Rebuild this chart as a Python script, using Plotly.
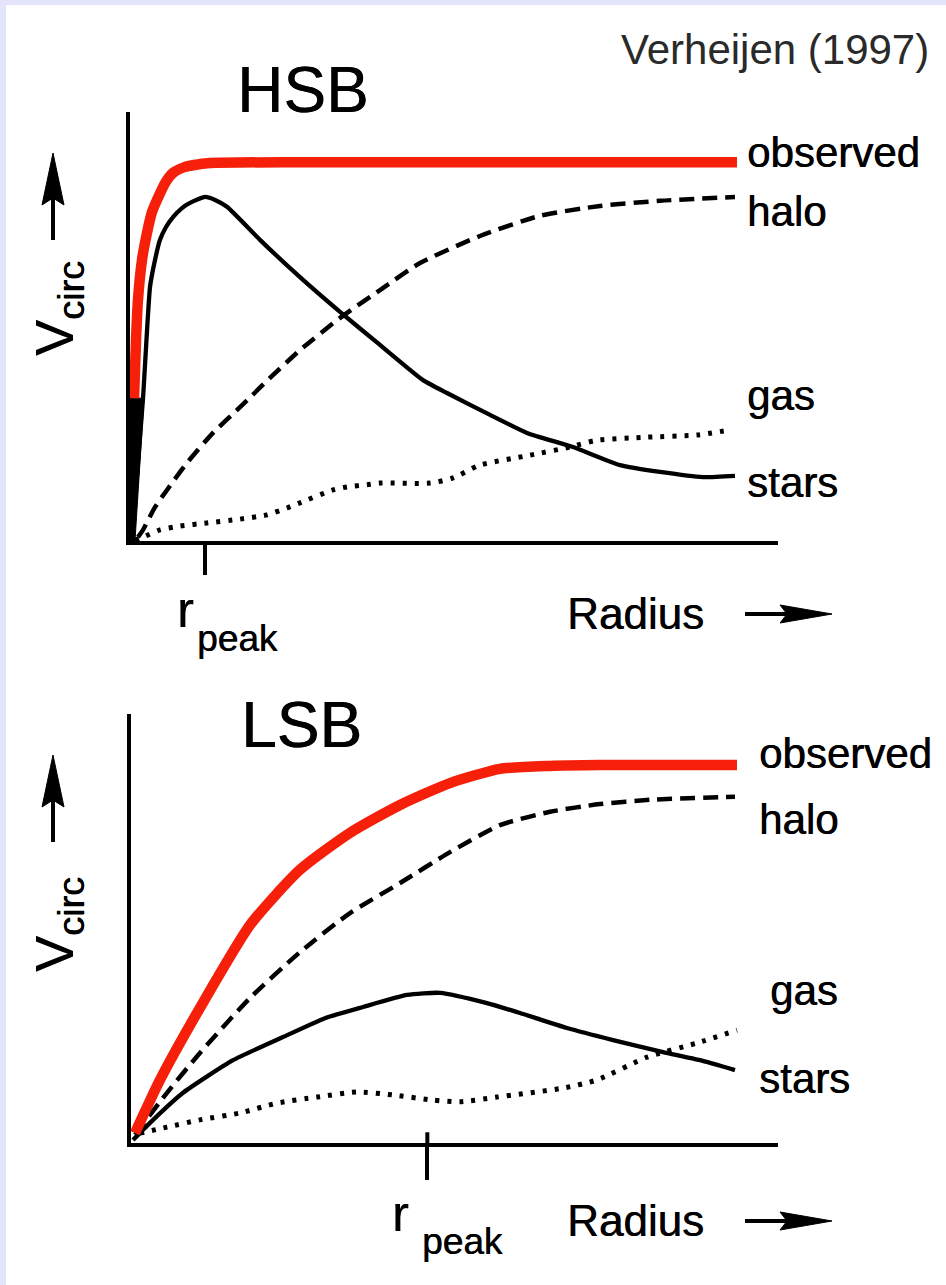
import plotly.graph_objects as go

W, H = 946, 1285

# ---------------- data (arbitrary units: radius 0..10, velocity 0..1) -------------
# HSB panel
hsb_obs_r = [0.062, 0.093, 0.123, 0.185, 0.262, 0.340, 0.417, 0.540, 0.664, 0.849, 0.972, 1.235, 2.623, 9.367]
hsb_obs_v = [0.333, 0.469, 0.562, 0.655, 0.718, 0.767, 0.795, 0.834, 0.858, 0.872, 0.876, 0.881, 0.883, 0.883]

hsb_stars_r = [0.031, 0.201, 0.309, 0.386, 0.463, 0.556, 0.664, 0.802, 0.926, 1.157, 1.312, 1.497, 2.006,
               2.623, 3.241, 3.858, 4.522, 4.892, 5.556, 6.127, 6.836, 7.562, 8.179, 8.843, 9.336]
hsb_stars_v = [0.0, 0.333, 0.592, 0.655, 0.702, 0.732, 0.755, 0.776, 0.788, 0.802, 0.795, 0.779, 0.702,
               0.615, 0.534, 0.457, 0.375, 0.345, 0.294, 0.252, 0.219, 0.177, 0.161, 0.149, 0.152]

hsb_core_r = [0.0, 0.0, 0.216, 0.077]
hsb_core_v = [0.0, 0.333, 0.333, 0.0]

hsb_halo_r = [0.123, 0.201, 0.386, 0.571, 0.880, 1.281, 1.698, 2.160, 2.623, 3.241, 3.858, 4.475, 5.401,
              6.327, 7.253, 8.179, 9.336]
hsb_halo_v = [0.009, 0.026, 0.079, 0.119, 0.182, 0.252, 0.312, 0.380, 0.445, 0.520, 0.585, 0.648, 0.711,
              0.758, 0.781, 0.793, 0.802]

hsb_gas_r = [0.077, 0.201, 0.463, 0.772, 1.188, 1.698, 2.114, 2.423, 2.623, 3.133, 3.349, 3.657, 3.858,
             4.630, 4.985, 5.401, 6.173, 6.790, 7.207, 7.978, 8.750, 9.259]
hsb_gas_v = [0.002, 0.009, 0.026, 0.035, 0.042, 0.051, 0.061, 0.077, 0.089, 0.119, 0.126, 0.131, 0.135,
             0.135, 0.147, 0.177, 0.200, 0.219, 0.235, 0.242, 0.247, 0.259]

hsb_rpeak = 1.157

# LSB panel
lsb_obs_r = [0.062, 0.448, 1.066, 1.839, 2.612, 3.385, 4.158, 4.930, 5.703, 6.476, 7.249, 9.366]
lsb_obs_v = [0.023, 0.147, 0.315, 0.508, 0.637, 0.723, 0.788, 0.839, 0.872, 0.879, 0.881, 0.881]

lsb_halo_r = [0.062, 0.556, 1.066, 1.839, 2.612, 3.385, 4.158, 4.930, 5.703, 6.476, 7.249, 8.022, 9.335]
lsb_halo_v = [0.019, 0.117, 0.210, 0.338, 0.445, 0.536, 0.606, 0.678, 0.741, 0.772, 0.790, 0.800, 0.807]

lsb_stars_r = [0.031, 0.294, 0.804, 1.577, 2.349, 2.998, 3.586, 4.266, 4.776, 5.502, 6.012, 6.739, 7.450,
               8.223, 8.795, 9.335]
lsb_stars_v = [0.007, 0.047, 0.117, 0.193, 0.247, 0.291, 0.317, 0.345, 0.350, 0.326, 0.303, 0.268, 0.240,
               0.212, 0.193, 0.170]

lsb_gas_r = [0.139, 0.556, 1.066, 1.685, 2.257, 2.875, 3.493, 4.049, 4.668, 5.085, 5.657, 6.677, 7.202,
             7.975, 8.748, 9.366]
lsb_gas_v = [0.023, 0.037, 0.054, 0.070, 0.093, 0.107, 0.119, 0.112, 0.100, 0.096, 0.107, 0.128, 0.147,
             0.200, 0.233, 0.263]

lsb_rpeak = 4.58

# ---------------- helpers (pixel -> paper) ----------------
def px(x):
    return x / W


def py(y):
    return 1 - y / H


RED = "#f51f0a"
FONT = "Liberation Sans, Arial, Helvetica, sans-serif"
THICK = "0.6px 0px 0px black"

fig = go.Figure()


def add_panel(xa, ya, gas, halo, stars, obs, core=None):
    fig.add_trace(go.Scatter(x=gas[0], y=gas[1], mode="lines", xaxis=xa, yaxis=ya,
                             line=dict(color="black", width=5, dash="4px,8px", shape="spline", smoothing=0.6)))
    fig.add_trace(go.Scatter(x=halo[0], y=halo[1], mode="lines", xaxis=xa, yaxis=ya,
                             line=dict(color="black", width=4.5, dash="15px,8px", shape="spline", smoothing=0.6)))
    fig.add_trace(go.Scatter(x=stars[0], y=stars[1], mode="lines", xaxis=xa, yaxis=ya,
                             line=dict(color="black", width=4.3, shape="spline", smoothing=0.5)))
    if core is not None:
        fig.add_trace(go.Scatter(x=core[0], y=core[1], mode="lines", fill="toself", fillcolor="black",
                                 xaxis=xa, yaxis=ya, line=dict(color="black", width=1)))
    fig.add_trace(go.Scatter(x=obs[0], y=obs[1], mode="lines", xaxis=xa, yaxis=ya,
                             line=dict(color=RED, width=10.5, shape="spline", smoothing=0.6)))


add_panel("x", "y", (hsb_gas_r, hsb_gas_v), (hsb_halo_r, hsb_halo_v), (hsb_stars_r, hsb_stars_v),
          (hsb_obs_r, hsb_obs_v), core=(hsb_core_r, hsb_core_v))
add_panel("x2", "y2", (lsb_gas_r, lsb_gas_v), (lsb_halo_r, lsb_halo_v), (lsb_stars_r, lsb_stars_v),
          (lsb_obs_r, lsb_obs_v))

# upper part of the LSB r_peak tick (crosses the axis)
fig.add_trace(go.Scatter(x=[lsb_rpeak, lsb_rpeak], y=[0, 0.025], mode="lines", xaxis="x2", yaxis="y2",
                         line=dict(color="black", width=4)))

axis_common = dict(showline=True, linecolor="black", linewidth=4, showgrid=False, zeroline=False,
                   showticklabels=False, fixedrange=True)

fig.update_layout(
    width=W, height=H,
    margin=dict(l=0, r=0, t=0, b=0),
    paper_bgcolor="#e3e3fa",
    plot_bgcolor="white",
    showlegend=False,
    xaxis=dict(domain=[px(130), px(778)], range=[0, 10], anchor="y",
               tickvals=[hsb_rpeak], ticks="outside", ticklen=30, tickwidth=4, tickcolor="black", **axis_common),
    yaxis=dict(domain=[py(541), py(112)], range=[0, 1], anchor="x", ticks="", **axis_common),
    xaxis2=dict(domain=[px(131), px(778)], range=[0, 10], anchor="y2",
                tickvals=[lsb_rpeak], ticks="outside", ticklen=33, tickwidth=4, tickcolor="black", **axis_common),
    yaxis2=dict(domain=[py(1143), py(714)], range=[0, 1], anchor="x2", ticks="", **axis_common),
)

shapes = [
    dict(type="rect", xref="paper", yref="paper", x0=px(6), x1=1, y0=0, y1=py(5),
         fillcolor="white", line=dict(width=0), layer="below"),
]


def up_arrow(x, y_tip, y_tail):
    shapes.append(dict(type="line", xref="paper", yref="paper", x0=px(x), x1=px(x), y0=py(y_tail), y1=py(y_tip + 40),
                       line=dict(color="black", width=4)))
    shapes.append(dict(type="path", xref="paper", yref="paper",
                       path=f"M{px(x)},{py(y_tip)} L{px(x - 11)},{py(y_tip + 52)} L{px(x)},{py(y_tip + 45)} "
                            f"L{px(x + 11)},{py(y_tip + 52)} Z",
                       fillcolor="black", line=dict(color="black", width=1)))


def right_arrow(x_tail, x_tip, y):
    shapes.append(dict(type="line", xref="paper", yref="paper", x0=px(x_tail), x1=px(x_tip - 40), y0=py(y), y1=py(y),
                       line=dict(color="black", width=4)))
    shapes.append(dict(type="path", xref="paper", yref="paper",
                       path=f"M{px(x_tip)},{py(y)} L{px(x_tip - 52)},{py(y - 9)} L{px(x_tip - 45)},{py(y)} "
                            f"L{px(x_tip - 52)},{py(y + 9)} Z",
                       fillcolor="black", line=dict(color="black", width=1)))


up_arrow(53, 153, 240)
up_arrow(53, 755, 842)
right_arrow(745, 832, 614)
right_arrow(745, 832, 1221)

fig.update_layout(shapes=shapes)

ann = []


def text(x, y, s, size, xanchor="left", color="black", angle=0, shadow=THICK):
    ann.append(dict(x=px(x), y=py(y), xref="paper", yref="paper", text=s, showarrow=False,
                    xanchor=xanchor, yanchor="middle", textangle=angle,
                    font=dict(family=FONT, size=size, color=color, shadow=shadow)))


text(931, 50, "Verheijen (1997)", 42, xanchor="right", color="#2a2a2a", shadow="none")
text(303, 90, "HSB", 64, xanchor="center")
text(301, 725, "LSB", 64, xanchor="center")

# HSB labels
text(745, 152, "observed", 42)
text(745, 212, "halo", 42)
text(745, 395, "gas", 42)
text(745, 482, "stars", 42)
# LSB labels
text(757, 753, "observed", 42)
text(757, 820, "halo", 42)
text(768, 990, "gas", 42)
text(757, 1078, "stars", 42)

# axis labels
text(565, 613, "Radius", 44)
text(565, 1220, "Radius", 44)
text(175, 610, "r", 50)
text(195, 638, "peak", 37)
text(390, 1214, "r", 50)
text(420, 1241, "peak", 37)

text(58, 309, "V<sub>circ</sub>", 54, xanchor="center", angle=-90)
text(58, 925, "V<sub>circ</sub>", 54, xanchor="center", angle=-90)

fig.update_layout(annotations=ann)

fig.write_html("out.html")
